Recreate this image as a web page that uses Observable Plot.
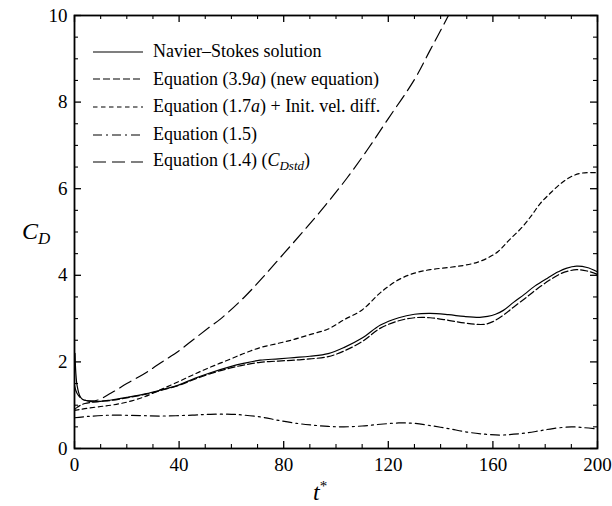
<!DOCTYPE html>
<html><head><meta charset="utf-8">
<script src="https://cdn.jsdelivr.net/npm/d3@7"></script>
<script src="https://cdn.jsdelivr.net/npm/@observablehq/plot@0.6"></script>
<style>
body{margin:0;background:#fff;}
#wrap{position:relative;width:612px;height:506px;font-family:"Liberation Serif",Tinos,"Times New Roman",Times,"Nimbus Roman","DejaVu Serif",serif;color:#000;}
#wrap svg text{font-family:"Liberation Serif",Tinos,"Times New Roman",Times,"Nimbus Roman","DejaVu Serif",serif;}
.row{position:absolute;left:93px;height:24px;display:flex;align-items:center;font-size:18px;white-space:nowrap;}
.row svg{margin-right:10px;}
.lab{position:absolute;font-size:24px;font-style:italic;white-space:nowrap;}
</style></head>
<body><div id="wrap"></div>
<script>
// ---- data ----
const tNS  = [0.2,0.5,1,2,3,5,8,14,20,27,33,40,46,52,59,65,71,78,84,90,97,103,110,117,124,130,136,143,149,155,158,161,164,168,172,176,181,185,188,192,196,200];
const cdNS = [2.2,1.75,1.45,1.22,1.14,1.1,1.08,1.12,1.18,1.26,1.35,1.47,1.62,1.75,1.88,1.97,2.04,2.07,2.1,2.13,2.19,2.33,2.55,2.85,3.02,3.1,3.12,3.09,3.05,3.03,3.05,3.1,3.19,3.38,3.56,3.75,3.94,4.08,4.16,4.21,4.18,4.08];

const tNew  = [0,1,2,4,7,10,14,20,27,33,40,46,52,59,65,71,78,84,90,97,103,110,117,124,130,136,143,149,153,157,160,164,168,173,177,182,186,189,192,196,200];
const cdNew = [0.9,0.95,0.99,1.04,1.07,1.09,1.11,1.17,1.25,1.34,1.46,1.6,1.73,1.85,1.93,1.99,2.02,2.04,2.07,2.12,2.25,2.47,2.78,2.95,3.02,3.02,2.96,2.9,2.87,2.87,2.93,3.08,3.27,3.5,3.69,3.9,4.04,4.1,4.13,4.1,4.02];

const t17  = [0,2,5,10,14,20,27,33,40,46,52,59,65,71,78,84,90,97,103,110,117,124,130,136,143,149,154,158,162,166,171,175,178,182,186,190,194,200];
const cd17 = [0.88,0.9,0.93,0.97,1.0,1.07,1.2,1.36,1.55,1.72,1.88,2.05,2.2,2.33,2.43,2.52,2.63,2.76,2.97,3.2,3.6,3.9,4.05,4.13,4.18,4.23,4.3,4.4,4.55,4.8,5.1,5.4,5.65,5.9,6.12,6.28,6.36,6.37];

const t15  = [0,5,14,25,33,45,52,60,65,72,78,85,91,97,103,110,117,124,130,137,143,150,157,163,168,173,178,183,190,195,200];
const cd15 = [0.71,0.74,0.77,0.76,0.75,0.77,0.79,0.79,0.77,0.72,0.65,0.58,0.54,0.51,0.5,0.52,0.56,0.59,0.58,0.52,0.46,0.38,0.33,0.31,0.33,0.36,0.41,0.46,0.5,0.48,0.45];

const t14  = [0,1,3,6,9,14,20,27,33,40,46,52,56,65,72,80,88,96,104,112,120,130,136,143,147];
const cd14 = [1.45,1.27,1.14,1.1,1.12,1.28,1.5,1.74,1.98,2.26,2.54,2.82,3.0,3.5,3.95,4.5,5.05,5.62,6.23,6.9,7.62,8.52,9.2,10.0,10.5];

const xMajor = [0,40,80,120,160,200];
const xMinor = [10,20,30,50,60,70,90,100,110,130,140,150,170,180,190];
const yMajor = [0,2,4,6,8,10];
const yMinor = [0.5,1,1.5,2.5,3,3.5,4.5,5,5.5,6.5,7,7.5,8.5,9,9.5];

const legendLabels = [
  "Navier–Stokes solution",
  "Equation (3.9<i>a</i>) (new equation)",
  "Equation (1.7<i>a</i>) + Init. vel. diff.",
  "Equation (1.5)",
  "Equation (1.4) (<i>C</i><sub style='font-size:13px;vertical-align:-4px'><i>Dstd</i></sub>)"
];

// ---- styling ----
const serif = "'Liberation Serif',Tinos,'Times New Roman',Times,'Nimbus Roman','DejaVu Serif',serif";
const dashes = [null, "7,3", "4.5,3.5", "9,4,2,4", "13,6"];
const series = [[tNS,cdNS],[tNew,cdNew],[t17,cd17],[t15,cd15],[t14,cd14]];

const W = 612, H = 506, mL = 74, mR = 15, mT = 15, mB = 58;
const pw = W - mL - mR, ph = H - mT - mB;
const major = 7, minor = 4;

const lineMarks = series.map(([ts, cs], i) =>
  Plot.line(ts.map((t, j) => ({t, cd: cs[j]})), {
    x: "t", y: "cd", curve: "catmull-rom", stroke: "black", strokeWidth: 1.2,
    strokeDasharray: dashes[i] ?? undefined, clip: true
  })
);

const chart = Plot.plot({
  width: W, height: H,
  marginLeft: mL, marginRight: mR, marginTop: mT, marginBottom: mB,
  x: {domain: [0, 200]},
  y: {domain: [0, 10]},
  style: {fontFamily: serif, fontSize: "19px", color: "black", background: "white"},
  marks: [
    ...lineMarks,
    // inward ticks on all four sides
    Plot.ruleX(xMajor, {x: d => d, insetTop: ph - major, strokeWidth: 1.3}),
    Plot.ruleX(xMinor, {x: d => d, insetTop: ph - minor, strokeWidth: 1.1}),
    Plot.ruleX(xMajor, {x: d => d, insetBottom: ph - major, strokeWidth: 1.3}),
    Plot.ruleX(xMinor, {x: d => d, insetBottom: ph - minor, strokeWidth: 1.1}),
    Plot.ruleY(yMajor, {y: d => d, insetRight: pw - major, strokeWidth: 1.3}),
    Plot.ruleY(yMinor, {y: d => d, insetRight: pw - minor, strokeWidth: 1.1}),
    Plot.ruleY(yMajor, {y: d => d, insetLeft: pw - major, strokeWidth: 1.3}),
    Plot.ruleY(yMinor, {y: d => d, insetLeft: pw - minor, strokeWidth: 1.1}),
    Plot.axisX({ticks: xMajor, tickSize: 0, tickPadding: 9, label: null, tickFormat: d => String(d)}),
    Plot.axisY({ticks: yMajor, tickSize: 0, tickPadding: 7, label: null, tickFormat: d => String(d)}),
    Plot.frame({stroke: "black", strokeWidth: 1.8})
  ]
});

const wrap = document.getElementById("wrap");
wrap.appendChild(chart);

// legend (inside plot area, upper left)
const rowCenters = [51.7, 79.3, 106.9, 134.5, 162.1];
legendLabels.forEach((lab, i) => {
  const row = document.createElement("div");
  row.className = "row";
  row.style.top = (rowCenters[i] - 12) + "px";
  const da = dashes[i] ? `stroke-dasharray="${dashes[i]}"` : "";
  row.innerHTML = `<svg width="50" height="6"><line x1="0" y1="3" x2="50" y2="3" stroke="black" stroke-width="1.2" ${da}/></svg><span>${lab}</span>`;
  wrap.appendChild(row);
});

// axis titles
const yl = document.createElement("div");
yl.className = "lab";
yl.style.left = "22px"; yl.style.top = "218px";
yl.innerHTML = "C<sub style='font-size:17px;vertical-align:-5px'>D</sub>";
wrap.appendChild(yl);

const xl = document.createElement("div");
xl.className = "lab";
xl.style.left = "313px"; xl.style.top = "478px";
xl.innerHTML = "t<sup style='font-size:15px;font-style:normal;vertical-align:9px'>*</sup>";
wrap.appendChild(xl);
</script>
</body></html>
